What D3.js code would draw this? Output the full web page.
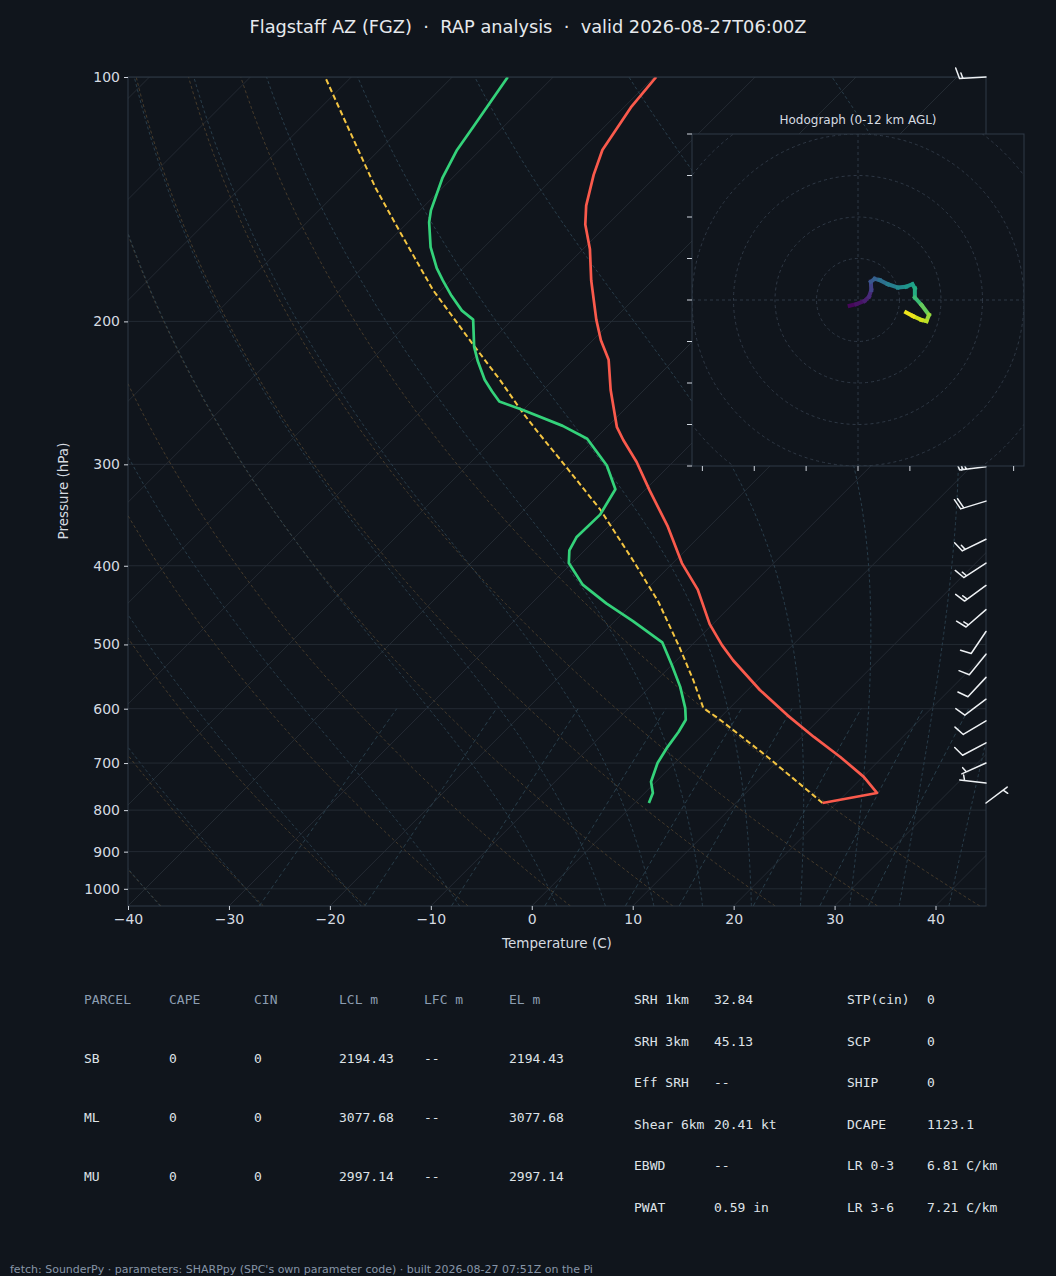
<!DOCTYPE html>
<html>
<head>
<meta charset="utf-8">
<script src="https://cdn.jsdelivr.net/npm/d3@7"></script>
<style>
  body { margin: 0; background: #10151c; }
  svg { display: block; }
</style>
</head>
<body>
<svg id="chart" width="1056" height="1276"></svg>
<script>
// ---- sounding data (hPa, degC), surface first ----
const tempP = [784, 762, 728, 688, 650, 611, 569, 523, 501, 472, 428, 397, 358, 323, 298, 280, 270, 243, 223, 211, 199, 178, 163, 152, 144, 132, 123, 109, 100];
const tempT = [18.6, 23.0, 20.1, 15.8, 11.2, 6.4, 1.2, -4.4, -7.0, -10.3, -14.9, -19.1, -24.1, -29.5, -33.6, -37.1, -39.0, -43.3, -46.5, -49.2, -51.7, -56.1, -59.3, -62.2, -64.0, -66.3, -67.9, -69.3, -69.8];

const dewP = [784, 762, 738, 700, 669, 641, 619, 599, 564, 530, 497, 468, 445, 422, 397, 383, 369, 346, 322, 301, 279, 269, 257, 251, 244, 236, 224, 215, 199, 194, 186, 178, 172, 162, 151, 146, 133, 123, 115, 100];
const dewT = [1.4, 0.8, -0.5, -1.7, -2.3, -2.7, -3.2, -4.4, -7.0, -10.0, -13.2, -18.2, -22.6, -26.8, -30.3, -31.5, -32.1, -32.0, -33.0, -36.2, -40.8, -44.5, -50.1, -53.2, -54.9, -56.8, -59.3, -61.1, -63.9, -65.9, -68.4, -70.8, -72.6, -75.3, -77.9, -78.9, -81.0, -82.3, -83.0, -84.5];

const parcelP = [784, 688, 616, 599, 553, 504, 467, 443, 394, 341, 296, 274, 259, 236, 213, 183, 155, 137, 122, 100];
const parcelT = [18.6, 8.6, -0.2, -2.6, -6.4, -11.0, -14.9, -17.6, -24.2, -32.5, -41.4, -46.3, -49.8, -55.3, -61.6, -70.8, -79.9, -86.6, -92.5, -102.6];

// wind barbs: pressure, speed (kt), direction wind blows from (deg)
const barbP = [784, 741, 700, 661, 621, 584, 549, 514, 482, 453, 423, 397, 371, 333, 302, 100];
const barbSpd = [5, 5, 5, 10, 10, 10, 10, 10, 10, 15, 15, 15, 15, 20, 25, 15];
const barbDir = [53, 277, 246, 242, 239, 233, 223, 219, 214, 229, 234, 237, 244, 253, 263, 267];

// hodograph (kt) with height AGL (km)
const hodoU = [-2.0, -0.4, 1.6, 2.65, 3.2, 3.1, 4.0, 5.2, 7.2, 9.6, 11.6, 13.1, 13.7, 13.7, 15.3, 17.1, 16.5, 15.3, 13.3, 11.6];
const hodoV = [-1.4, -1.0, -0.2, 0.8, 2.4, 4.4, 5.1, 4.8, 3.8, 3.0, 3.2, 3.8, 2.8, 0.6, -1.2, -3.6, -5.1, -4.8, -3.9, -3.0];
const hodoH = [0, 0.4, 0.8, 1.2, 1.7, 3.0, 3.4, 4.0, 4.8, 5.4, 6.0, 6.6, 7.0, 7.8, 8.6, 9.8, 10.6, 11.0, 11.4, 12.0];

const pressureTicks = [100, 200, 300, 400, 500, 600, 700, 800, 900, 1000];
const tempTicks = [-40, -30, -20, -10, 0, 10, 20, 30, 40];
const hodoYTicks = [-40, -30, -20, -10, 0, 10, 20, 30, 40];
const hodoXTicks = [-37.5, -25, -12.5, 0, 12.5, 25, 37.5];
const hodoRings = [10, 20, 30, 40, 50];

const parcelHeader = ["PARCEL", "CAPE", "CIN", "LCL m", "LFC m", "EL m"];
const parcelRows = [
  ["SB", "0", "0", "2194.43", "--", "2194.43"],
  ["ML", "0", "0", "3077.68", "--", "3077.68"],
  ["MU", "0", "0", "2997.14", "--", "2997.14"]
];
const indexRows = [
  ["SRH 1km", "32.84", "STP(cin)", "0"],
  ["SRH 3km", "45.13", "SCP", "0"],
  ["Eff SRH", "--", "SHIP", "0"],
  ["Shear 6km", "20.41 kt", "DCAPE", "1123.1"],
  ["EBWD", "--", "LR 0-3", "6.81 C/km"],
  ["PWAT", "0.59 in", "LR 3-6", "7.21 C/km"]
];

const titleText = "Flagstaff AZ (FGZ)  \u00b7  RAP analysis  \u00b7  valid 2026-08-27T06:00Z";
const footerText = "fetch: SounderPy \u00b7 parameters: SHARPpy (SPC's own parameter code) \u00b7 built 2026-08-27 07:51Z on the Pi";

// ---- layout ----
const bg = "#10151c";
const pL = 128, pR = 986, pT = 77, pB = 906;
const svg = d3.select("#chart");
svg.append("rect").attr("width", 1056).attr("height", 1276).attr("fill", bg);

const x = d3.scaleLinear().domain([-40, 45]).range([pL, pR]);
const y = d3.scaleLog().domain([1050, 100]).range([pB, pT]);
// 45 degree skew
const sx = (T, p) => x(T) + (pB - y(p));

const defs = svg.append("defs");
defs.append("clipPath").attr("id", "plotClip")
  .append("rect").attr("x", pL).attr("y", pT).attr("width", pR - pL).attr("height", pB - pT);

const plot = svg.append("g").attr("clip-path", "url(#plotClip)");
const line = d3.line().x(d => sx(d[1], d[0])).y(d => y(d[0]));

// thermodynamic guide lines
const Rd = 287.04749, Cp = 1004.6662, Lv = 2.50084e6, eps = 0.62196;
const kappa = Rd / Cp;
const pLevels = d3.range(1050, 99, -5);

function moistLine(t0) {
  const f = (p, T) => {
    const tc = T - 273.15;
    const es = 6.112 * Math.exp(17.67 * tc / (tc + 243.5));
    const rs = eps * es / (p - es);
    return (Rd * T + Lv * rs) / (Cp + Lv * Lv * rs * eps / (Rd * T * T)) / p;
  };
  const step = (p, T, h) => {
    const k1 = f(p, T), k2 = f(p + h / 2, T + h * k1 / 2), k3 = f(p + h / 2, T + h * k2 / 2), k4 = f(p + h, T + h * k3);
    return T + h * (k1 + 2 * k2 + 2 * k3 + k4) / 6;
  };
  const up = [[1000, t0]];
  let p = 1000, T = t0 + 273.15;
  while (p > 100) { T = step(p, T, -5); p -= 5; up.push([p, T - 273.15]); }
  const down = [];
  p = 1000; T = t0 + 273.15;
  while (p < 1050) { T = step(p, T, 5); p += 5; down.push([p, T - 273.15]); }
  return down.reverse().concat(up);
}

// grid: isobars and isotherms
plot.selectAll(".isobar").data(pressureTicks).join("line")
  .attr("x1", pL).attr("x2", pR).attr("y1", d => y(d)).attr("y2", d => y(d))
  .attr("stroke", "#262d36").attr("stroke-width", 0.9);
plot.selectAll(".isotherm").data(d3.range(-120, 41, 10)).join("line")
  .attr("x1", d => sx(d, 1050)).attr("y1", y(1050))
  .attr("x2", d => sx(d, 100)).attr("y2", y(100))
  .attr("stroke", "#262d36").attr("stroke-width", 0.9);

// dry adiabats
d3.range(-40, 41, 10).forEach(t0 => {
  const pts = pLevels.map(p => [p, (t0 + 273.15) * Math.pow(p / 1000, kappa) - 273.15]);
  plot.append("path").attr("d", line(pts)).attr("fill", "none")
    .attr("stroke", "#4d3f2c").attr("stroke-width", 0.9).attr("stroke-dasharray", "3,2.5");
});
// moist adiabats
[-40, -30, -20, -10, 0, 5, 10, 15, 20, 25, 30, 35, 40, 45].forEach(t0 => {
  plot.append("path").attr("d", line(moistLine(t0))).attr("fill", "none")
    .attr("stroke", "#2b4250").attr("stroke-width", 0.9).attr("stroke-dasharray", "3,2.5");
});
// mixing ratio lines
[0.0004, 0.001, 0.002, 0.004, 0.007, 0.01, 0.016, 0.024, 0.032].forEach(w => {
  const pts = d3.range(1050, 599, -10).map(p => {
    const e = p * w / (eps + w);
    const l = Math.log(e / 6.112);
    return [p, 243.5 * l / (17.67 - l)];
  });
  plot.append("path").attr("d", line(pts)).attr("fill", "none")
    .attr("stroke", "#2b4350").attr("stroke-width", 0.9).attr("stroke-dasharray", "4,3");
});

// profiles
const zip = (P, T) => P.map((p, i) => [p, T[i]]);
plot.append("path").attr("d", line(zip(parcelP, parcelT))).attr("fill", "none")
  .attr("stroke", "#f4c542").attr("stroke-width", 2).attr("stroke-dasharray", "5.5,3");
plot.append("path").attr("d", line(zip(tempP, tempT))).attr("fill", "none")
  .attr("stroke", "#fa5a4c").attr("stroke-width", 2.7).attr("stroke-linejoin", "round");
plot.append("path").attr("d", line(zip(dewP, dewT))).attr("fill", "none")
  .attr("stroke", "#34d27a").attr("stroke-width", 2.7).attr("stroke-linejoin", "round");

// frame and axes
svg.append("rect").attr("x", pL).attr("y", pT).attr("width", pR - pL).attr("height", pB - pT)
  .attr("fill", "none").attr("stroke", "#2f3a47").attr("stroke-width", 1);

const yAxis = svg.append("g").attr("transform", `translate(${pL},0)`)
  .call(d3.axisLeft(y).tickValues(pressureTicks).tickFormat(d3.format("d")).tickSizeInner(4).tickSizeOuter(0).tickPadding(4));
const xAxis = svg.append("g").attr("transform", `translate(0,${pB})`)
  .call(d3.axisBottom(x).tickValues(tempTicks).tickSizeInner(4).tickSizeOuter(0).tickPadding(4));
[xAxis, yAxis].forEach(a => {
  a.select(".domain").remove();
  a.selectAll("line").attr("stroke", "#d0d6de");
  a.selectAll("text").attr("fill", "#d6dbe1").attr("font-family", "DejaVu Sans").attr("font-size", 14);
});

svg.append("text").attr("x", 557).attr("y", 948).attr("text-anchor", "middle")
  .attr("fill", "#d6dbe1").attr("font-family", "DejaVu Sans").attr("font-size", 13.5).text("Temperature (C)");
svg.append("text").attr("transform", "translate(68,491) rotate(-90)").attr("text-anchor", "middle")
  .attr("fill", "#d6dbe1").attr("font-family", "DejaVu Sans").attr("font-size", 13.5).text("Pressure (hPa)");

svg.append("text").attr("x", 528).attr("y", 33).attr("text-anchor", "middle")
  .attr("xml:space", "preserve").style("white-space", "pre")
  .attr("fill", "#e6e9ed").attr("font-family", "DejaVu Sans").attr("font-size", 17.8).text(titleText);

// ---- wind barbs at right edge ----
function barbPath(x0, y0, spd, dir) {
  const L = 26.5, sp = 0.125 * L, fh = 0.4 * L, fw = 0.25 * L;
  const r = dir * Math.PI / 180;
  const s = [Math.sin(r), -Math.cos(r)];
  const n = [Math.cos(r), Math.sin(r)];
  const tip = [x0 + s[0] * L, y0 + s[1] * L];
  let d = `M${x0},${y0}L${tip[0]},${tip[1]}`;
  const rs = Math.round(spd / 5) * 5;
  const full = Math.floor(rs / 10);
  const half = rs % 10 >= 5;
  let off = 0;
  for (let i = 0; i < full; i++) {
    const P = [tip[0] - s[0] * off, tip[1] - s[1] * off];
    d += `M${P[0]},${P[1]}L${P[0] + n[0] * fh + s[0] * fw / 2},${P[1] + n[1] * fh + s[1] * fw / 2}`;
    off += sp;
  }
  if (half) {
    if (off === 0) off = 1.5 * sp;
    const P = [tip[0] - s[0] * off, tip[1] - s[1] * off];
    d += `M${P[0]},${P[1]}L${P[0] + n[0] * fh / 2 + s[0] * fw / 4},${P[1] + n[1] * fh / 2 + s[1] * fw / 4}`;
  }
  return d;
}
svg.append("g").selectAll("path").data(barbP).join("path")
  .attr("d", (p, i) => barbPath(pR, y(p), barbSpd[i], barbDir[i]))
  .attr("fill", "none").attr("stroke", "#eef1f4").attr("stroke-width", 1.5)
  .attr("stroke-linecap", "round").attr("stroke-linejoin", "round");

// ---- hodograph inset ----
const hx = d3.scaleLinear().domain([-40, 40]).range([692, 1024]);
const hy = d3.scaleLinear().domain([-40, 40]).range([466, 134]);
const hodo = svg.append("g");
defs.append("clipPath").attr("id", "hodoClip")
  .append("rect").attr("x", 692).attr("y", 134).attr("width", 332).attr("height", 332);
hodo.append("rect").attr("x", 692).attr("y", 134).attr("width", 332).attr("height", 332).attr("fill", bg);
const hin = hodo.append("g").attr("clip-path", "url(#hodoClip)");
hin.selectAll("circle").data(hodoRings).join("circle")
  .attr("cx", hx(0)).attr("cy", hy(0)).attr("r", d => hx(d) - hx(0))
  .attr("fill", "none").attr("stroke", "#323c49").attr("stroke-width", 0.9).attr("stroke-dasharray", "3,3");
hin.append("line").attr("x1", 692).attr("x2", 1024).attr("y1", hy(0)).attr("y2", hy(0))
  .attr("stroke", "#323c49").attr("stroke-width", 0.9).attr("stroke-dasharray", "3,3");
hin.append("line").attr("y1", 134).attr("y2", 466).attr("x1", hx(0)).attr("x2", hx(0))
  .attr("stroke", "#323c49").attr("stroke-width", 0.9).attr("stroke-dasharray", "3,3");
const segs = d3.range(hodoU.length - 1);
hin.selectAll(".seg").data(segs).join("line")
  .attr("x1", i => hx(hodoU[i])).attr("y1", i => hy(hodoV[i]))
  .attr("x2", i => hx(hodoU[i + 1])).attr("y2", i => hy(hodoV[i + 1]))
  .attr("stroke", i => d3.interpolateViridis((hodoH[i] + hodoH[i + 1]) / 24))
  .attr("stroke-width", 4).attr("stroke-linecap", "square");
hodo.append("rect").attr("x", 692).attr("y", 134).attr("width", 332).attr("height", 332)
  .attr("fill", "none").attr("stroke", "#2f3a47").attr("stroke-width", 1);
hodo.selectAll(".ty").data(hodoYTicks).join("line")
  .attr("x1", 687).attr("x2", 692).attr("y1", d => hy(d)).attr("y2", d => hy(d))
  .attr("stroke", "#d0d6de").attr("stroke-width", 1);
hodo.selectAll(".tx").data(hodoXTicks).join("line")
  .attr("y1", 466).attr("y2", 471).attr("x1", d => hx(d)).attr("x2", d => hx(d))
  .attr("stroke", "#d0d6de").attr("stroke-width", 1);
hodo.append("text").attr("x", 858).attr("y", 124).attr("text-anchor", "middle")
  .attr("fill", "#d6dbe1").attr("font-family", "DejaVu Sans").attr("font-size", 12).text("Hodograph (0-12 km AGL)");

// ---- parameter tables ----
const mono = "DejaVu Sans Mono";
const colX = [84, 169, 254, 339, 424, 509];
svg.append("g").selectAll("text").data(parcelHeader).join("text")
  .attr("x", (d, i) => colX[i]).attr("y", 1004)
  .attr("fill", "#8c9db1").attr("font-family", mono).attr("font-size", 13).text(d => d);
parcelRows.forEach((row, r) => {
  svg.append("g").selectAll("text").data(row).join("text")
    .attr("x", (d, i) => colX[i]).attr("y", 1063 + r * 59)
    .attr("fill", "#dfe3e8").attr("font-family", mono).attr("font-size", 13).text(d => d);
});
const idxX = [634, 714, 847, 927];
indexRows.forEach((row, r) => {
  svg.append("g").selectAll("text").data(row).join("text")
    .attr("x", (d, i) => idxX[i]).attr("y", 1004 + r * 41.6)
    .attr("fill", "#dfe3e8").attr("font-family", mono).attr("font-size", 13).text(d => d);
});

svg.append("text").attr("x", 10).attr("y", 1273)
  .attr("fill", "#8795a8").attr("font-family", "DejaVu Sans").attr("font-size", 11).text(footerText);
</script>
</body>
</html>
